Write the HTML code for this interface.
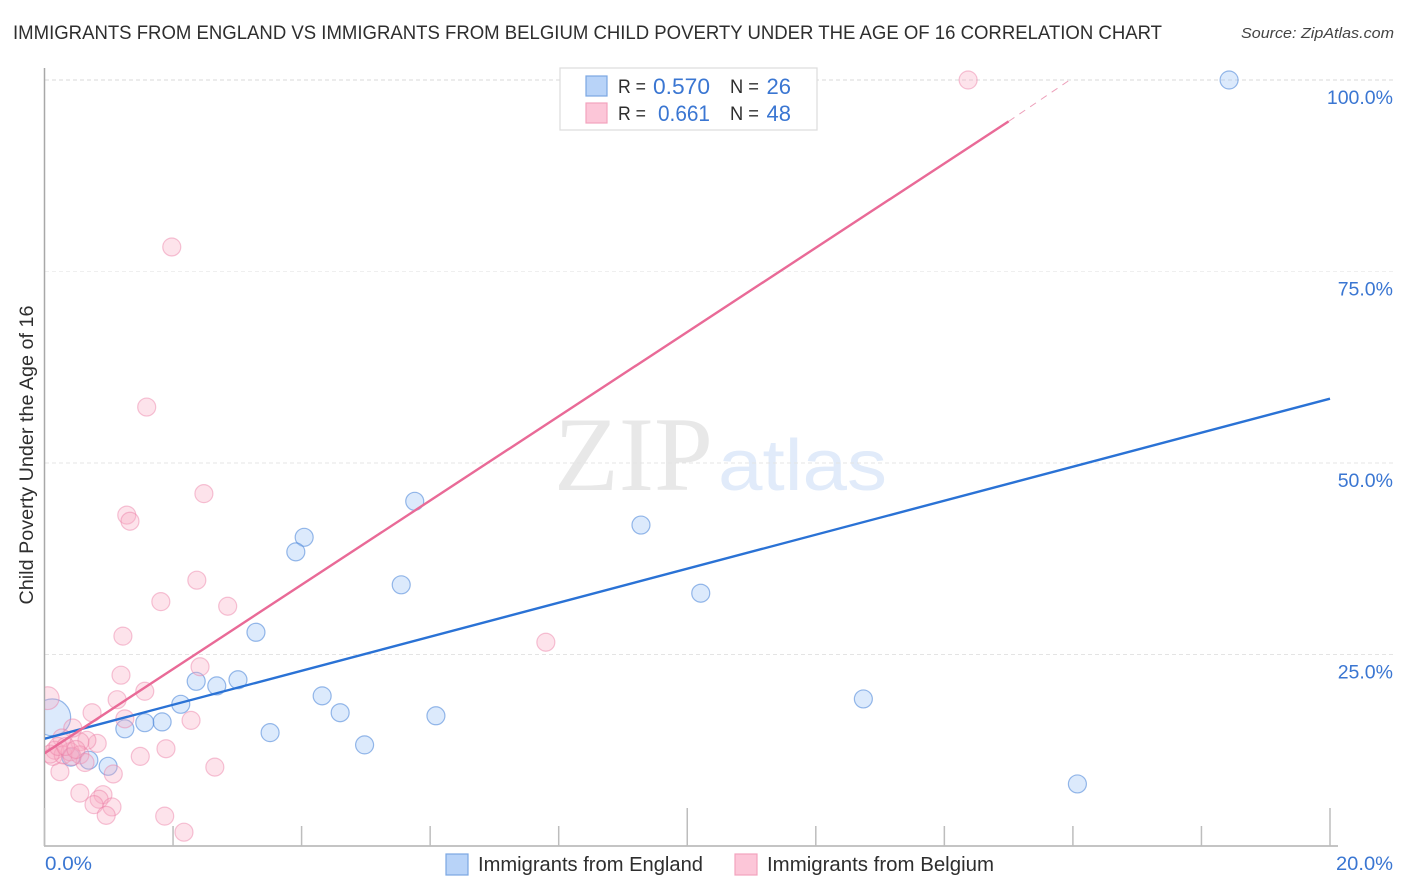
<!DOCTYPE html>
<html>
<head>
<meta charset="utf-8">
<title>Immigrants from England vs Immigrants from Belgium Child Poverty Correlation Chart</title>
<style>
html,body{margin:0;padding:0;background:#fff;width:1406px;height:892px;overflow:hidden}
svg{display:block;font-family:"Liberation Sans",sans-serif}
</style>
</head>
<body>
<svg id="chart" width="1406" height="892" viewBox="0 0 1406 892" xmlns="http://www.w3.org/2000/svg">
  <defs><clipPath id="plot-clip"><rect x="45" y="60" width="1300" height="786"/></clipPath></defs>
  <text x="13" y="39" font-size="19.5" fill="#2e2e2e" textLength="1149" lengthAdjust="spacingAndGlyphs">IMMIGRANTS FROM ENGLAND VS IMMIGRANTS FROM BELGIUM CHILD POVERTY UNDER THE AGE OF 16 CORRELATION CHART</text>
  <text x="1241" y="38" font-size="15" font-style="italic" fill="#444" textLength="153" lengthAdjust="spacingAndGlyphs">Source: ZipAtlas.com</text>
  <g id="watermark">
    <text x="554" y="490" font-family="'Liberation Serif',serif" font-size="106" fill="#e8e8e8" textLength="159" lengthAdjust="spacingAndGlyphs">ZIP</text>
    <text x="718" y="490" font-size="72" fill="#e1ebfa" textLength="169" lengthAdjust="spacingAndGlyphs">atlas</text>
  </g>
  <g id="grid"></g>
  <g id="axes"></g>
  <g id="points" clip-path="url(#plot-clip)"></g>
  <g id="trends" clip-path="url(#plot-clip)"></g>
  <text transform="translate(33,455) rotate(-90)" text-anchor="middle" font-size="19" fill="#2e2e2e" textLength="299" lengthAdjust="spacingAndGlyphs">Child Poverty Under the Age of 16</text>
  <g>
    <rect x="560" y="68" width="257" height="62" fill="#fff" stroke="#dcdcdc" stroke-width="1.2"/>
    <rect x="586" y="76" width="21" height="20" fill="#b8d3f8" stroke="#7ba7e2" stroke-width="1.2"/>
    <rect x="586" y="103" width="21" height="20" fill="#fcc6d8" stroke="#f2a3bd" stroke-width="1.2"/>
    <text x="618" y="93" font-size="19" fill="#2e2e2e" textLength="28" lengthAdjust="spacingAndGlyphs">R =</text>
    <text x="653" y="94" font-size="22" fill="#3a76d2" textLength="57" lengthAdjust="spacingAndGlyphs">0.570</text>
    <text x="730" y="93" font-size="19" fill="#2e2e2e" textLength="29" lengthAdjust="spacingAndGlyphs">N =</text>
    <text x="791" y="94" font-size="22" fill="#3a76d2" text-anchor="end">26</text>
    <text x="618" y="120" font-size="19" fill="#2e2e2e" textLength="28" lengthAdjust="spacingAndGlyphs">R =</text>
    <text x="658" y="121" font-size="22" fill="#3a76d2" textLength="52" lengthAdjust="spacingAndGlyphs">0.661</text>
    <text x="730" y="120" font-size="19" fill="#2e2e2e" textLength="29" lengthAdjust="spacingAndGlyphs">N =</text>
    <text x="791" y="121" font-size="22" fill="#3a76d2" text-anchor="end">48</text>
  </g>
  <g>
    <g>
      <rect x="446" y="854" width="22" height="21" fill="#b8d3f8" stroke="#7ba7e2" stroke-width="1.2"/>
      <text x="478" y="871" font-size="20" fill="#2e2e2e" textLength="225" lengthAdjust="spacingAndGlyphs">Immigrants from England</text>
    </g>
    <g>
      <rect x="735" y="854" width="22" height="21" fill="#fcc6d8" stroke="#f2a3bd" stroke-width="1.2"/>
      <text x="767" y="871" font-size="20" fill="#2e2e2e" textLength="227" lengthAdjust="spacingAndGlyphs">Immigrants from Belgium</text>
    </g>
  </g>
</svg>
<script>
const englandX = [18.43,16.07,12.74,10.21,9.28,6.09,5.76,5.55,4.98,4.6,4.32,4.04,3.91,3.51,3.29,3.01,2.68,2.36,2.12,1.83,1.56,1.25,0.99,0.69,0.41,0.12];
const englandY = [100,8.1,19.2,33.0,41.9,17.0,45.0,34.1,13.2,17.4,19.6,40.3,38.4,14.8,27.9,21.7,20.9,21.5,18.5,16.2,16.1,15.3,10.4,11.2,11.6,16.8];
const englandWeight = [1,1,1,1,1,1,1,1,1,1,1,1,1,1,1,1,1,1,1,1,1,1,1,1,1,4.2];
const belgiumX = [14.37,1.98,1.59,2.48,1.28,1.33,2.37,1.81,2.85,1.22,7.80,2.42,1.19,1.56,1.13,0.74,1.25,2.28,1.89,1.49,2.65,1.07,0.24,0.55,0.91,0.85,0.77,1.05,0.96,1.87,2.17,0.82,0.66,0.55,0.44,0.27,0.05,0.13,0.16,0.29,0.40,0.55,0.63,0.43,0.09,0.21,0.33,0.49];
const belgiumY = [100,78.2,57.3,46.0,43.2,42.4,34.7,31.9,31.3,27.4,26.6,23.4,22.3,20.2,19.1,17.4,16.6,16.4,12.7,11.7,10.3,9.4,9.7,6.9,6.7,6.1,5.4,5.1,4.0,3.9,1.8,13.4,13.8,13.6,15.4,14.1,19.3,11.7,12.5,11.9,12.3,11.9,10.9,11.7,12.0,13.0,13.0,12.6];
const belgiumWeight = [1,1,1,1,1,1,1,1,1,1,1,1,1,1,1,1,1,1,1,1,1,1,1,1,1,1,1,1,1,1,1,1,1,1,1,1,1.6,1,1,1,1,1,1,1,1,1,1,1];
const englandTrendX = [0,20];
const englandTrendY = [14.0,58.4];
const belgiumTrendX = [0,15.0];
const belgiumTrendY = [12.1,94.6];
const belgiumExtendX = [15.0,15.95];
const belgiumExtendY = [94.6,100];
const yTicks = [25,50,75,100];
const yTickLabels = ['25.0%','50.0%','75.0%','100.0%'];
const xTicks = [0,2,4,6,8,10,12,14,16,18,20];
const xMajorTicks = [0,10,20];
const xEndLabels = ['0.0%','20.0%'];

const NS = 'http://www.w3.org/2000/svg';
const sx = v => 44.5 + v * 64.275;
const sy = v => 846 - v * 7.66;
const baseR = 9;
function mk(parent, tag, attrs, text) {
  const el = document.createElementNS(NS, tag);
  for (const k in attrs) el.setAttribute(k, attrs[k]);
  if (text !== undefined) el.textContent = text;
  document.getElementById(parent).appendChild(el);
  return el;
}
yTicks.forEach((t, i) => {
  const g = mk('grid', 'line', {x1:45, x2:1393, y1:sy(t), y2:sy(t), stroke:t===100?'#dadada':(t===75?'#efefef':'#e4e4e4'), 'stroke-width':1, 'stroke-dasharray':'4 3'});
  
  
  const l = mk('axes', 'text', {x:1393, y:sy(t)+24, 'text-anchor':'end', 'font-size':19.5, fill:'#3a76d2'}, yTickLabels[i]);
  
  
});
const yAxis = mk('axes', 'line', {x1:44.5, x2:44.5, y1:68, y2:846, stroke:'#a8a8a8', 'stroke-width':1.5});


const xAxis = mk('axes', 'line', {x1:44, x2:1338, y1:846, y2:846, stroke:'#b0b0b0', 'stroke-width':1.5});


xTicks.forEach(t => {
  const major = xMajorTicks.includes(t);
  const tk = mk('axes', 'line', {x1:sx(t), x2:sx(t), y1:major?808:826, y2:846, stroke:'#bdbdbd', 'stroke-width':1.5});
  
  
});
const x0 = mk('axes', 'text', {x:45, y:870, 'font-size':19.5, fill:'#3a76d2', textLength:47, lengthAdjust:'spacingAndGlyphs'}, xEndLabels[0]);


const x1 = mk('axes', 'text', {x:1336, y:870, 'font-size':19.5, fill:'#3a76d2', textLength:57, lengthAdjust:'spacingAndGlyphs'}, xEndLabels[1]);



englandX.forEach((v, i) => {
  const c = mk('points', 'circle', {cx:sx(v), cy:sy(englandY[i]), r:baseR*Math.sqrt(englandWeight[i]), fill:'rgba(150,190,245,0.33)', stroke:'rgba(70,130,215,0.55)', 'stroke-width':1.2});
  
  
});
belgiumX.forEach((v, i) => {
  const c = mk('points', 'circle', {cx:sx(v), cy:sy(belgiumY[i]), r:baseR*Math.sqrt(belgiumWeight[i]), fill:'rgba(248,170,195,0.33)', stroke:'rgba(235,125,165,0.45)', 'stroke-width':1.2});
  
  
});
const t1 = mk('trends', 'line', {x1:sx(englandTrendX[0]), y1:sy(englandTrendY[0]), x2:sx(englandTrendX[1]), y2:sy(englandTrendY[1]), stroke:'#2a72d5', 'stroke-width':2.4});


const t2 = mk('trends', 'line', {x1:sx(belgiumTrendX[0]), y1:sy(belgiumTrendY[0]), x2:sx(belgiumTrendX[1]), y2:sy(belgiumTrendY[1]), stroke:'#e96a97', 'stroke-width':2.4});


const t3 = mk('trends', 'line', {x1:sx(belgiumExtendX[0]), y1:sy(belgiumExtendY[0]), x2:sx(belgiumExtendX[1]), y2:sy(belgiumExtendY[1]), stroke:'#eda0ba', 'stroke-width':1, 'stroke-dasharray':'7 6'});


</script>
</body>
</html>
